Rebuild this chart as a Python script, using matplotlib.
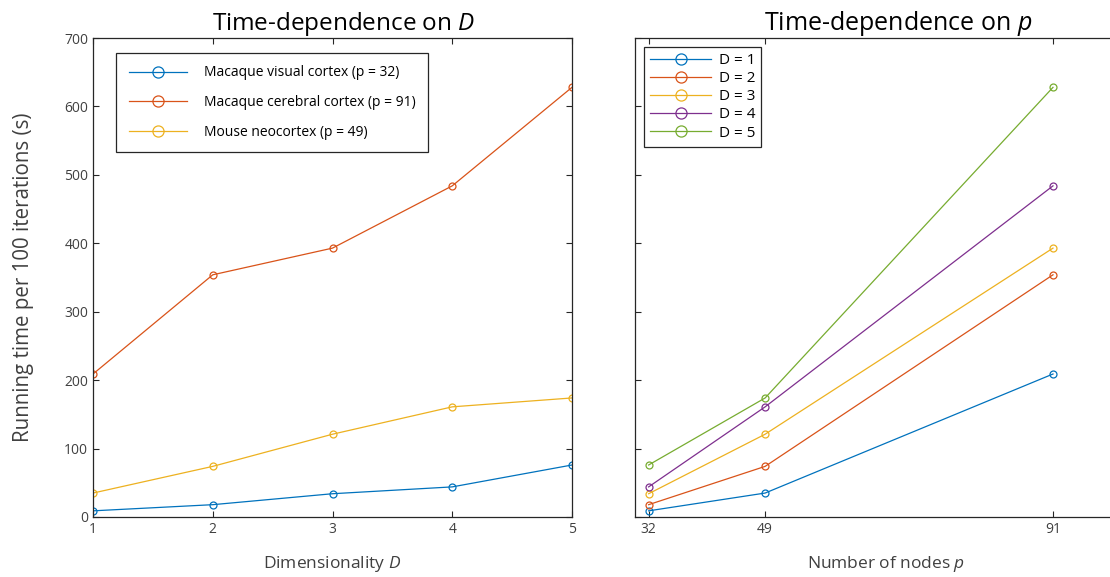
import numpy as np
import matplotlib
matplotlib.use("Agg")
import matplotlib.pyplot as plt

plt.rcParams['font.family'] = ['Open Sans', 'DejaVu Sans']
plt.rcParams['mathtext.fontset'] = 'custom'
plt.rcParams['mathtext.rm'] = 'Open Sans'
plt.rcParams['mathtext.it'] = 'Open Sans:italic'

# running time (s) per 100 iterations
dims = [1, 2, 3, 4, 5]
visual = [9, 18, 34, 44, 76]        # p = 32
cerebral = [209, 354, 393, 484, 628]  # p = 91
mouse = [35, 74, 121, 161, 174]     # p = 49

nodes = [32, 49, 91]
names = ["Macaque visual cortex (p = 32)",
         "Macaque cerebral cortex (p = 91)",
         "Mouse neocortex (p = 49)"]

colors = ['#0072BD', '#D95319', '#EDB120', '#7E2F8E', '#77AC30']
axcol = '#262626'

fig = plt.figure(figsize=(11.1, 5.77), dpi=100)
ax1 = fig.add_axes([0.0838, 0.104, 0.4315, 0.830])
# right panel runs past the figure edge, as in the original export
ax2 = fig.add_axes([0.572, 0.104, 0.4532, 0.830])

for ys, lab, c in zip([visual, cerebral, mouse], names, colors):
    ax1.plot(dims, ys, '-o', color=c, lw=0.9, ms=5, mfc='none', mew=0.9, label=lab)

# by node count: columns of the table above, sorted by p
table = np.array([visual, mouse, cerebral])
for i, d in enumerate(dims):
    ax2.plot(nodes, table[:, i], '-o', color=colors[i], lw=0.9, ms=5, mfc='none',
             mew=0.9, label="D = %d" % d)

ax1.set_xlim(1, 5)
ax1.set_ylim(0, 700)
ax1.set_xticks(dims)
ax1.set_yticks(np.arange(0, 701, 100))
ax2.set_xlim(30, 103.4)
ax2.set_ylim(0, 700)
ax2.set_xticks(nodes)
ax2.set_yticks(np.arange(0, 701, 100))
ax2.set_yticklabels([])

for ax in (ax1, ax2):
    ax.tick_params(direction='in', top=True, right=True, length=4, width=0.8,
                   colors=axcol, labelsize=10, labelcolor='#404040')
    for s in ax.spines.values():
        s.set_color(axcol)
        s.set_linewidth(0.9)
ax2.tick_params(right=False)
ax2.spines['right'].set_visible(False)

ax1.set_title("Time-dependence on $D$", fontsize=17.5, color='black', pad=6, x=0.523)
ax2.set_title("Time-dependence on $p$", fontsize=18, color='black', pad=6, x=0.523)
ax1.set_xlabel("Dimensionality $D$", fontsize=12.5, color='#404040', labelpad=12)
ax2.set_xlabel("Number of nodes $p$", fontsize=12.5, color='#404040', labelpad=12)
ax1.set_ylabel("Running time per 100 iterations (s)", fontsize=14.8, color='#404040',
               labelpad=22)

leg1 = ax1.legend(loc='upper left', bbox_to_anchor=(0.048, 0.969), fontsize=10,
                  handlelength=4.2, labelspacing=1.05, borderpad=0.9,
                  handletextpad=1.2, markerscale=1.6, fancybox=False,
                  framealpha=1, edgecolor=axcol, borderaxespad=0)
leg1.get_frame().set_linewidth(0.9)
leg2 = ax2.legend(loc='upper left', bbox_to_anchor=(0.018, 0.981), fontsize=11,
                  handlelength=4.0, labelspacing=0.2, borderpad=0.4,
                  handletextpad=0.5, markerscale=1.6, fancybox=False,
                  framealpha=1, edgecolor=axcol, borderaxespad=0)
leg2.get_frame().set_linewidth(0.9)

plt.savefig("out.png", dpi=100)
